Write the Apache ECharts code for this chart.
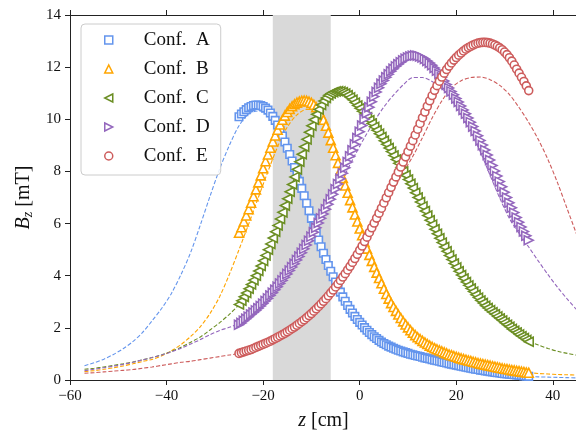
<!DOCTYPE html>
<html>
<head>
<meta charset="utf-8">
<script src="https://cdn.jsdelivr.net/npm/echarts@6/dist/echarts.min.js"></script>
<style>
html,body{margin:0;padding:0;background:#fff;}
#chart{width:576px;height:434px;}
</style>
</head>
<body>
<div id="chart"></div>
<script>
// ---------- data ----------
const seriesNames = ['Conf.  A', 'Conf.  B', 'Conf.  C', 'Conf.  D', 'Conf.  E'];
const xTicks = [-60, -40, -20, 0, 20, 40];
const yTicks = [0, 2, 4, 6, 8, 10, 12, 14];
const bandRange = [-18, -6];

const zMeas = [
-25,-24.5,-24,-23.5,-23,-22.5,-22,-21.5,-21,-20.5,
-20,-19.5,-19,-18.5,-18,-17.5,-17,-16.5,-16,-15.5,
-15,-14.5,-14,-13.5,-13,-12.5,-12,-11.5,-11,-10.5,
-10,-9.5,-9,-8.5,-8,-7.5,-7,-6.5,-6,-5.5,
-5,-4.5,-4,-3.5,-3,-2.5,-2,-1.5,-1,-0.5,
0,0.5,1,1.5,2,2.5,3,3.5,4,4.5,
5,5.5,6,6.5,7,7.5,8,8.5,9,9.5,
10,10.5,11,11.5,12,12.5,13,13.5,14,14.5,
15,15.5,16,16.5,17,17.5,18,18.5,19,19.5,
20,20.5,21,21.5,22,22.5,23,23.5,24,24.5,
25,25.5,26,26.5,27,27.5,28,28.5,29,29.5,
30,30.5,31,31.5,32,32.5,33,33.5,34,34.5,
35];

const measA = [
10.10,10.20,10.29,10.37,10.44,10.49,10.53,10.55,10.55,10.53,
10.49,10.43,10.35,10.24,10.11,9.96,9.78,9.58,9.36,9.13,
8.89,8.65,8.40,8.15,7.89,7.62,7.35,7.07,6.78,6.49,
6.20,5.92,5.64,5.37,5.11,4.86,4.62,4.39,4.17,3.96,
3.76,3.56,3.37,3.19,3.02,2.86,2.71,2.57,2.44,2.32,
2.21,2.11,2.01,1.91,1.82,1.74,1.66,1.59,1.52,1.46,
1.40,1.35,1.30,1.26,1.22,1.18,1.14,1.11,1.08,1.05,
1.02,0.99,0.97,0.94,0.92,0.90,0.87,0.85,0.83,0.81,
0.78,0.76,0.74,0.72,0.69,0.67,0.65,0.63,0.61,0.59,
0.57,0.55,0.53,0.51,0.49,0.47,0.45,0.43,0.41,0.40,
0.38,0.37,0.35,0.34,0.32,0.31,0.29,0.28,0.27,0.25,
0.24,0.23,0.22,0.21,0.20,0.19,0.18,0.17,0.16,0.15,
0.14];

const measB = [
5.65,5.86,6.08,6.31,6.55,6.80,7.05,7.31,7.58,7.85,
8.12,8.39,8.65,8.91,9.15,9.38,9.60,9.80,9.98,10.14,
10.28,10.40,10.50,10.58,10.64,10.68,10.71,10.72,10.71,10.68,
10.63,10.56,10.46,10.33,10.17,9.98,9.75,9.49,9.20,8.91,
8.62,8.33,8.04,7.75,7.46,7.18,6.90,6.62,6.35,6.08,
5.81,5.55,5.29,5.04,4.80,4.57,4.34,4.12,3.91,3.71,
3.50,3.30,3.12,2.95,2.80,2.65,2.51,2.38,2.25,2.13,
2.02,1.91,1.81,1.72,1.64,1.57,1.50,1.44,1.38,1.32,
1.27,1.22,1.18,1.14,1.10,1.06,1.02,0.98,0.95,0.92,
0.89,0.86,0.83,0.80,0.78,0.75,0.73,0.70,0.68,0.65,
0.63,0.61,0.59,0.57,0.55,0.53,0.51,0.49,0.47,0.45,
0.43,0.42,0.40,0.38,0.37,0.35,0.34,0.32,0.31,0.29,
0.28];

const measC = [
2.90,3.04,3.19,3.34,3.50,3.66,3.83,4.00,4.18,4.37,
4.57,4.78,5.00,5.22,5.45,5.69,5.93,6.18,6.43,6.69,
6.95,7.22,7.50,7.79,8.08,8.37,8.66,8.95,9.23,9.50,
9.75,9.98,10.19,10.38,10.55,10.70,10.82,10.92,10.99,11.04,
11.07,11.08,11.07,11.04,10.99,10.92,10.84,10.75,10.64,10.53,
10.42,10.31,10.20,10.08,9.96,9.84,9.71,9.58,9.45,9.32,
9.18,9.04,8.90,8.76,8.61,8.46,8.31,8.16,8.00,7.85,
7.69,7.53,7.36,7.18,7.00,6.83,6.66,6.48,6.31,6.13,
5.96,5.78,5.61,5.44,5.27,5.10,4.94,4.78,4.62,4.47,
4.32,4.17,4.03,3.89,3.76,3.63,3.51,3.39,3.27,3.16,
3.05,2.95,2.85,2.76,2.68,2.60,2.52,2.44,2.36,2.28,
2.20,2.12,2.04,1.96,1.89,1.82,1.75,1.68,1.61,1.54,
1.47];

const measD = [
2.12,2.19,2.27,2.35,2.43,2.51,2.59,2.67,2.75,2.84,
2.93,3.03,3.13,3.24,3.35,3.46,3.58,3.70,3.82,3.94,
4.07,4.20,4.33,4.46,4.60,4.74,4.88,5.03,5.18,5.34,
5.50,5.67,5.84,6.02,6.20,6.37,6.55,6.74,6.93,7.12,
7.32,7.52,7.72,7.93,8.14,8.36,8.58,8.81,9.04,9.28,
9.52,9.76,10.00,10.23,10.46,10.67,10.87,11.05,11.21,11.36,
11.49,11.61,11.73,11.84,11.94,12.03,12.11,12.19,12.26,12.32,
12.37,12.41,12.44,12.45,12.44,12.41,12.37,12.31,12.24,12.16,
12.07,11.97,11.86,11.74,11.61,11.47,11.33,11.20,11.07,10.94,
10.80,10.66,10.51,10.36,10.21,10.05,9.89,9.72,9.55,9.37,
9.19,9.01,8.82,8.63,8.44,8.23,8.02,7.82,7.61,7.41,
7.20,7.00,6.80,6.61,6.42,6.23,6.05,5.87,5.70,5.53,
5.36];

const measE = [
1.02,1.05,1.08,1.11,1.14,1.17,1.21,1.25,1.29,1.33,
1.37,1.41,1.45,1.49,1.54,1.59,1.64,1.69,1.74,1.79,
1.85,1.91,1.97,2.03,2.10,2.17,2.24,2.31,2.39,2.47,
2.55,2.64,2.73,2.82,2.92,3.02,3.12,3.23,3.34,3.45,
3.57,3.69,3.82,3.95,4.08,4.22,4.36,4.51,4.66,4.82,
4.98,5.14,5.31,5.48,5.66,5.84,6.02,6.21,6.40,6.59,
6.79,6.99,7.19,7.39,7.59,7.79,7.98,8.17,8.36,8.56,
8.76,8.97,9.18,9.40,9.62,9.84,10.06,10.28,10.50,10.71,
10.91,11.11,11.29,11.46,11.62,11.77,11.91,12.04,12.16,12.27,
12.37,12.46,12.54,12.62,12.69,12.75,12.80,12.85,12.89,12.92,
12.94,12.95,12.95,12.94,12.92,12.89,12.85,12.80,12.74,12.67,
12.58,12.48,12.36,12.23,12.08,11.92,11.77,11.61,11.45,11.28,
11.10];

const zSim = [
-57,-55,-53,-51,-49,-47,-45,-43,-41,-39,
-37,-35,-33,-31,-29,-27,-25,-23,-21,-19,
-17,-15,-13,-11,-9,-7,-5,-3,-1,1,
3,5,7,9,11,13,15,17,19,21,
23,25,27,29,31,33,35,37,39,41,
43,45];

const simA = [
0.55,0.66,0.80,0.98,1.20,1.47,1.82,2.27,2.75,3.32,
4.05,4.90,5.95,7.05,8.10,9.00,9.75,10.20,10.32,10.18,
9.70,8.85,7.85,6.75,5.65,4.62,3.74,3.02,2.44,2.00,
1.66,1.40,1.20,1.06,0.95,0.86,0.77,0.68,0.60,0.52,
0.44,0.37,0.31,0.26,0.21,0.17,0.14,0.12,0.11,0.10,
0.09,0.08];

const simB = [
0.32,0.36,0.41,0.47,0.54,0.62,0.71,0.79,0.93,1.12,
1.36,1.67,2.05,2.55,3.20,4.05,5.00,5.98,7.00,8.00,
8.95,9.70,10.17,10.38,10.30,9.75,8.70,7.52,6.40,5.33,
4.38,3.55,2.88,2.34,1.90,1.55,1.28,1.07,0.90,0.76,
0.65,0.56,0.48,0.42,0.37,0.32,0.28,0.25,0.23,0.21,
0.20,0.19];

const simC = [
0.41,0.45,0.50,0.56,0.62,0.69,0.77,0.86,0.97,1.10,
1.26,1.45,1.65,1.92,2.20,2.52,2.90,3.48,4.15,4.98,
5.93,6.95,8.06,9.18,10.10,10.72,10.97,10.90,10.60,10.17,
9.68,9.15,8.60,8.01,7.38,6.70,6.02,5.35,4.72,4.14,
3.62,3.15,2.75,2.40,2.08,1.78,1.50,1.34,1.21,1.10,
1.02,0.95];

const simD = [
0.36,0.41,0.47,0.53,0.60,0.68,0.77,0.86,0.96,1.08,
1.22,1.38,1.55,1.74,1.90,2.02,2.18,2.42,2.74,3.10,
3.55,4.04,4.57,5.14,5.76,6.45,7.17,7.90,8.62,9.30,
9.92,10.47,10.93,11.32,11.60,11.60,11.45,11.18,10.75,10.18,
9.50,8.74,7.85,6.98,6.20,5.62,5.10,4.56,4.04,3.55,
3.10,2.68];

const simE = [
0.26,0.28,0.31,0.34,0.37,0.40,0.45,0.50,0.56,0.62,
0.68,0.72,0.78,0.84,0.90,0.96,1.02,1.14,1.29,1.45,
1.64,1.85,2.10,2.39,2.73,3.12,3.57,4.08,4.66,5.31,
6.00,6.68,7.33,7.95,8.58,9.30,10.05,10.70,11.20,11.48,
11.60,11.62,11.52,11.30,10.95,10.45,9.88,9.22,8.45,7.55,
6.55,5.55];

// ---------- styling ----------
const colors = ['#6495ED', '#FFA500', '#6B8E23', '#9467BD', '#CD5C5C'];
const symbols = ['rect', 'triangle', 'path://M10,0 L0,5 L10,10 Z', 'path://M0,0 L10,5 L0,10 Z', 'circle'];
const symbolSizes = [7.5, 9, 9, 9, 8];
const FONT = "'Liberation Serif','Times New Roman',serif";

const measSets = [measA, measB, measC, measD, measE];
const simSets = [simA, simB, simC, simD, simE];

function pair(xs, ys) { return xs.map((x, i) => [x, ys[i]]); }
function fmtMinus(v) { return String(v).replace('-', '\u2212'); }

const series = [];
series.push({
  type: 'line', data: [], z: 1, silent: true,
  markArea: {
    silent: true,
    itemStyle: { color: '#d9d9d9' },
    data: [[{ xAxis: bandRange[0] }, { xAxis: bandRange[1] }]]
  }
});
simSets.forEach((s, i) => {
  series.push({
    type: 'line', name: 'sim' + i, data: pair(zSim, s), z: 2,
    smooth: 0.3, showSymbol: false, symbol: 'none', silent: true,
    lineStyle: { color: colors[i], width: 1.1, type: [4, 2] }
  });
});
measSets.forEach((m, i) => {
  series.push({
    type: 'scatter', name: seriesNames[i], data: pair(zMeas, m), z: 3 + i,
    symbol: symbols[i], symbolSize: symbolSizes[i],
    itemStyle: { color: '#ffffff', borderColor: colors[i], borderWidth: 1.6, opacity: 1 },
    silent: true
  });
});

const chart = echarts.init(document.getElementById('chart'), null, { renderer: 'canvas' });
chart.setOption({
  animation: false,
  backgroundColor: '#ffffff',
  grid: { left: 70, top: 15, width: 507, height: 365, containLabel: false, outerBoundsMode: 'none' },
  legend: {
    orient: 'vertical', left: 81, top: 24,
    padding: [6, 11, 9, 23],
    itemWidth: 8, itemHeight: 8, itemGap: 9,
    backgroundColor: 'rgba(255,255,255,0.85)',
    borderColor: '#cccccc', borderWidth: 1, borderRadius: 4,
    data: seriesNames.map((n, i) => ({
      name: n, icon: symbols[i],
      itemStyle: { color: '#ffffff', borderColor: colors[i], borderWidth: 1.5 }
    })),
    textStyle: { fontFamily: FONT, fontSize: 19, color: '#111', lineHeight: 20, padding: [0, 0, 0, 26] }
  },
  xAxis: [{
    type: 'value', min: -60, max: 45, interval: 20, position: 'bottom',
    axisLine: { show: true, onZero: false, lineStyle: { color: '#222', width: 1 } },
    axisTick: { show: true, inside: false, length: 5, lineStyle: { color: '#222', width: 1 } },
    axisLabel: {
      show: true, margin: 9, fontFamily: FONT, fontSize: 15, color: '#111',
      formatter: v => xTicks.indexOf(v) >= 0 ? fmtMinus(v) : ''
    },
    splitLine: { show: false },
    name: '{i|z} {n|[cm]}', nameLocation: 'middle', nameGap: 31,
    nameTextStyle: {
      fontFamily: FONT, fontSize: 20, color: '#111',
      rich: {
        i: { fontFamily: FONT, fontSize: 20, fontStyle: 'italic', color: '#111' },
        n: { fontFamily: FONT, fontSize: 20, color: '#111' }
      }
    }
  }, {
    type: 'value', min: -60, max: 45, interval: 20, position: 'top',
    axisLine: { show: true, onZero: false, lineStyle: { color: '#222', width: 1 } },
    axisTick: { show: true, inside: false, length: 5, lineStyle: { color: '#222', width: 1 } },
    axisLabel: { show: false }, splitLine: { show: false }
  }],
  yAxis: [{
    type: 'value', min: 0, max: 14, interval: 2,
    axisLine: { show: true, onZero: false, lineStyle: { color: '#222', width: 1 } },
    axisTick: { show: true, inside: false, length: 5, lineStyle: { color: '#222', width: 1 } },
    axisLabel: {
      show: true, margin: 9, fontFamily: FONT, fontSize: 15, color: '#111',
      formatter: v => yTicks.indexOf(v) >= 0 ? String(v) : ''
    },
    splitLine: { show: false },
    name: '{i|B}{s|z} {n|[mT]}', nameLocation: 'middle', nameGap: 27,
    nameTextStyle: {
      fontFamily: FONT, fontSize: 20, color: '#111',
      rich: {
        i: { fontFamily: FONT, fontSize: 20, fontStyle: 'italic', color: '#111' },
        s: { fontFamily: FONT, fontSize: 14, fontStyle: 'italic', color: '#111', padding: [9, 0, 0, 0] },
        n: { fontFamily: FONT, fontSize: 20, color: '#111' }
      }
    }
  }],
  series: series
});
</script>
</body>
</html>
